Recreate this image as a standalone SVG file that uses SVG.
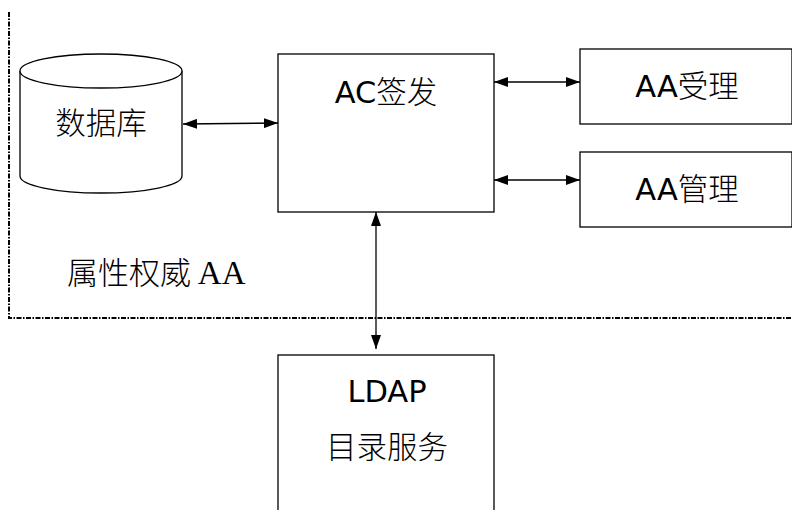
<svg xmlns="http://www.w3.org/2000/svg" width="792" height="510" viewBox="0 0 792 510">
  <style>
    .box { fill: #ffffff; stroke: #000000; stroke-width: 1.3; }
    .zone { fill: none; stroke: #000000; stroke-width: 2; stroke-dasharray: 5 1.5 1.5 1.5; }
    .link { fill: none; stroke: #000000; stroke-width: 1.3; }
    .lbl { font-family: Tahoma, "DejaVu Sans", "Noto Sans CJK SC", sans-serif; font-size: 30.5px; font-weight: 400; fill: #000000; text-anchor: middle; }
    .cjk { font-family: "Noto Sans CJK SC", sans-serif; font-weight: 300; }
    .cap { font-family: "Noto Sans CJK SC", sans-serif; font-size: 31px; font-weight: 300; fill: #000000; }
    .serif { font-family: "Liberation Serif", serif; font-weight: 400; font-size: 33px; }
  </style>
  <defs>
    <marker id="tip" viewBox="0 0 14 10" refX="14" refY="5" markerWidth="14" markerHeight="10" markerUnits="userSpaceOnUse" orient="auto-start-reverse">
      <path d="M0,0 L14,5 L0,10 Z" fill="#000000"/>
    </marker>
  </defs>

  <rect width="792" height="510" fill="#ffffff"/>

  <!-- attribute authority boundary -->
  <g id="aa-zone">
    <path class="zone" d="M9,12 L9,318 L792,318"/>
    <text class="cap" x="67" y="284">属性权威 <tspan class="serif">AA</tspan></text>
  </g>

  <!-- database cylinder -->
  <g id="database">
    <path class="box" d="M20,71 L20,176 A81,17 0 0 0 182,176 L182,71"/>
    <ellipse class="box" cx="101" cy="71" rx="81" ry="17"/>
    <text class="lbl cjk" x="101" y="134">数据库</text>
  </g>

  <g id="ac-issue">
    <rect class="box" x="278" y="54" width="216" height="158"/>
    <text class="lbl" x="386" y="103">AC<tspan class="cjk">签发</tspan></text>
  </g>

  <g id="aa-accept">
    <rect class="box" x="580" y="49" width="212" height="75"/>
    <text class="lbl" x="687" y="97">AA<tspan class="cjk">受理</tspan></text>
  </g>

  <g id="aa-manage">
    <rect class="box" x="580" y="152" width="212" height="75"/>
    <text class="lbl" x="687" y="200">AA<tspan class="cjk">管理</tspan></text>
  </g>

  <g id="ldap">
    <rect class="box" x="278" y="355" width="216" height="170"/>
    <text class="lbl" x="387" y="402">LDAP</text>
    <text class="lbl cjk" x="387" y="458">目录服务</text>
  </g>

  <!-- connectors -->
  <g id="connectors">
    <line class="link" x1="183" y1="124" x2="278" y2="123" marker-start="url(#tip)" marker-end="url(#tip)"/>
    <line class="link" x1="494" y1="82" x2="580" y2="82" marker-start="url(#tip)" marker-end="url(#tip)"/>
    <line class="link" x1="494" y1="180" x2="580" y2="180" marker-start="url(#tip)" marker-end="url(#tip)"/>
    <line class="link" x1="376" y1="212" x2="376" y2="349" marker-start="url(#tip)" marker-end="url(#tip)"/>
  </g>
</svg>
